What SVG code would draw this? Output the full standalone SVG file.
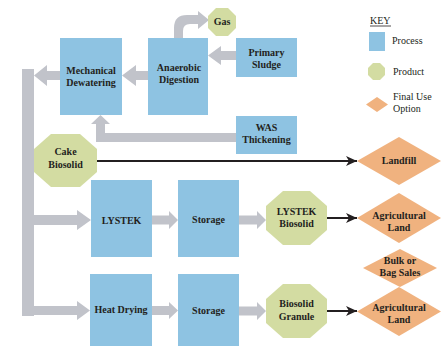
<svg xmlns="http://www.w3.org/2000/svg" width="445" height="348" viewBox="0 0 445 348">
  <defs>
    <style>
      .proc { fill: #8ec3e2; }
      .prod { fill: #d3dca2; }
      .use { fill: #f0b27f; }
      .flow { fill: #c1c3ca; }
      .lbl { font-family: "Liberation Serif", "Times New Roman", serif; font-weight: bold; font-size: 10px; fill: #231f20; text-anchor: middle; }
      .key { font-family: "Liberation Serif", "Times New Roman", serif; font-size: 10px; fill: #231f20; }
      .out { stroke: #231f20; stroke-width: 2; fill: none; }
    </style>
    <marker id="head" markerUnits="userSpaceOnUse" markerWidth="12" markerHeight="10" refX="11" refY="5" orient="auto">
      <path d="M0,0 L11,5 L0,10 L3,5 Z" fill="#231f20"/>
    </marker>
  </defs>

  <!-- connectors -->
  <g id="connectors">
    <!-- main gray collector bar -->
    <rect class="flow" x="22" y="69" width="12" height="247"/>
    <!-- gas off-take -->
    <path d="M174,38 V28 Q174,15 187,15 H198 V11 L209,20 L198,29 V24 H190 Q183,24 183,31 V38 Z" class="flow"/>
    <!-- primary sludge to digestion -->
    <polygon class="flow" points="236,51 221,51 221,46 208,55.5 221,65 221,60 236,60"/>
    <!-- digestion to dewatering -->
    <polygon class="flow" points="148,71 136,71 136,65 122,75.5 136,86 136,80 148,80"/>
    <!-- dewatering to bar -->
    <polygon class="flow" points="60,71 47,71 47,65 34,75.5 47,86 47,80 60,80"/>
    <!-- WAS thickening to dewatering -->
    <polygon class="flow" points="236,133 105,133 105,124 110,124 100.5,115 91,124 96,124 96,142 236,142"/>
    <!-- LYSTEK line -->
    <polygon class="flow" points="34,215 77,215 77,210 91,220 77,230 77,225 34,225"/>
    <polygon class="flow" points="152,215.5 169,215.5 169,211 178,220 169,229 169,224.5 152,224.5"/>
    <polygon class="flow" points="239,215.5 257,215.5 257,211 266,220 257,229 257,224.5 239,224.5"/>
    <!-- heat drying line -->
    <polygon class="flow" points="34,306 77,306 77,301 90,310.5 77,320 77,315 34,315"/>
    <polygon class="flow" points="152,306 169,306 169,302 178,310.5 169,319 169,315 152,315"/>
    <polygon class="flow" points="239,306.5 257,306.5 257,302 266,311 257,320 257,315.5 239,315.5"/>
    <!-- final use arrows -->
    <line class="out" x1="97" y1="161" x2="357" y2="161" marker-end="url(#head)"/>
    <line class="out" x1="327" y1="218" x2="357" y2="218" marker-end="url(#head)"/>
    <line class="out" x1="327" y1="311" x2="357" y2="311" marker-end="url(#head)"/>
  </g>

  <!-- process boxes -->
  <g id="mechanical-dewatering">
    <rect class="proc" x="60" y="38" width="62" height="77"/>
    <text class="lbl" x="91" y="74">Mechanical</text>
    <text class="lbl" x="91" y="86">Dewatering</text>
  </g>
  <g id="anaerobic-digestion">
    <rect class="proc" x="148" y="38" width="60" height="77"/>
    <text class="lbl" x="179" y="71">Anaerobic</text>
    <text class="lbl" x="179" y="83">Digestion</text>
  </g>
  <g id="primary-sludge">
    <rect class="proc" x="236" y="38" width="61" height="39"/>
    <text class="lbl" x="266.5" y="56">Primary</text>
    <text class="lbl" x="266.5" y="68">Sludge</text>
  </g>
  <g id="was-thickening">
    <rect class="proc" x="236" y="116" width="61" height="38"/>
    <text class="lbl" x="266.5" y="131">WAS</text>
    <text class="lbl" x="266.5" y="143">Thickening</text>
  </g>
  <g id="lystek">
    <rect class="proc" x="91" y="180" width="61" height="77"/>
    <text class="lbl" x="121.5" y="224">LYSTEK</text>
  </g>
  <g id="storage-1">
    <rect class="proc" x="178" y="180" width="61" height="77"/>
    <text class="lbl" x="208.5" y="223">Storage</text>
  </g>
  <g id="heat-drying">
    <rect class="proc" x="90" y="274" width="62" height="72"/>
    <text class="lbl" x="121" y="313">Heat Drying</text>
  </g>
  <g id="storage-2">
    <rect class="proc" x="178" y="274" width="61" height="72"/>
    <text class="lbl" x="208.5" y="314">Storage</text>
  </g>

  <!-- products -->
  <g id="gas">
    <polygon class="prod" points="216,8 228,8 236,16 236,28 228,36 216,36 208,28 208,16"/>
    <text class="lbl" x="222" y="25">Gas</text>
  </g>
  <g id="cake-biosolid">
    <polygon class="prod" points="51,134 80,134 97,149 97,172 80,187 51,187 34,172 34,149"/>
    <text class="lbl" x="65.5" y="155">Cake</text>
    <text class="lbl" x="65.5" y="168">Biosolid</text>
  </g>
  <g id="lystek-biosolid">
    <polygon class="prod" points="283,191 310,191 327,206 327,230 310,245 283,245 266,230 266,206"/>
    <text class="lbl" x="296.5" y="215">LYSTEK</text>
    <text class="lbl" x="296.5" y="227">Biosolid</text>
  </g>
  <g id="biosolid-granule">
    <polygon class="prod" points="283,284 310,284 327,299 327,323 310,338 283,338 266,323 266,299"/>
    <text class="lbl" x="296.5" y="307">Biosolid</text>
    <text class="lbl" x="296.5" y="320">Granule</text>
  </g>

  <!-- final use options -->
  <g id="landfill">
    <polygon class="use" points="357,161 399,137 441,161 399,185"/>
    <text class="lbl" x="399" y="164">Landfill</text>
  </g>
  <g id="agricultural-land-1">
    <polygon class="use" points="357,218 399,193 441,218 399,243"/>
    <text class="lbl" x="399" y="219">Agricultural</text>
    <text class="lbl" x="399" y="231">Land</text>
  </g>
  <g id="bulk-bag-sales">
    <polygon class="use" points="363,268 400,249 437,268 400,287"/>
    <text class="lbl" x="400" y="264">Bulk or</text>
    <text class="lbl" x="400" y="276">Bag Sales</text>
  </g>
  <g id="agricultural-land-2">
    <polygon class="use" points="357,311.5 399,287 441,311.5 399,336"/>
    <text class="lbl" x="399" y="311">Agricultural</text>
    <text class="lbl" x="399" y="323">Land</text>
  </g>

  <!-- key -->
  <g id="key">
    <text class="key" x="370" y="24">KEY</text>
    <line x1="370" y1="26" x2="391" y2="26" stroke="#231f20" stroke-width="0.8"/>
    <rect class="proc" x="369" y="32" width="16" height="19"/>
    <text class="key" x="392" y="44">Process</text>
    <polygon class="prod" points="373,63 380,63 385,68 385,75 380,80 373,80 368,75 368,68"/>
    <text class="key" x="393" y="75">Product</text>
    <polygon class="use" points="366,104.5 377,97 388,104.5 377,112"/>
    <text class="key" x="393" y="100">Final Use</text>
    <text class="key" x="393" y="112">Option</text>
  </g>
</svg>
